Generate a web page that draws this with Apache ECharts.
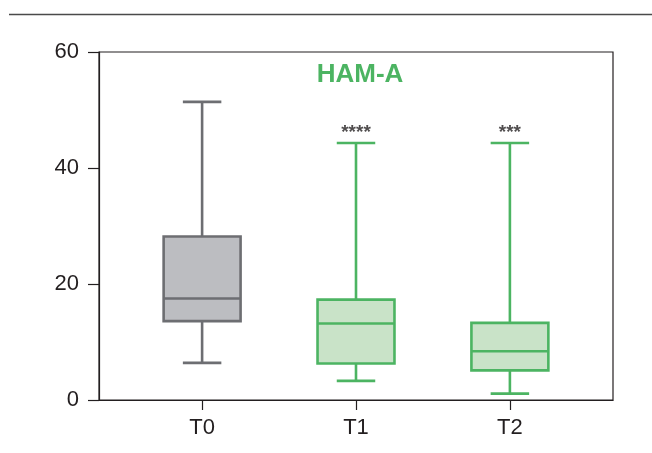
<!DOCTYPE html>
<html>
<head>
<meta charset="utf-8">
<script src="https://cdn.jsdelivr.net/npm/echarts@6/dist/echarts.min.js"></script>
<style>
  html, body { margin: 0; padding: 0; background: #fff; }
  #chart { width: 652px; height: 453px; }
</style>
</head>
<body>
<div id="chart"></div>
<script>
// time points
const categories = ['T0', 'T1', 'T2']
// [min, Q1, median, Q3, max]
const boxT0 = [6.4, 13.6, 17.5, 28.2, 51.4]
const boxT1 = [3.3, 6.3, 13.2, 17.3, 44.3]
const boxT2 = [1.1, 5.1, 8.4, 13.3, 44.3]
// significance marks vs T0
const sigLabels = ['', '****', '***']

const GRAY = '#6d6e72'
const GREEN = '#4cb462'
const fontFamily = '"Liberation Sans", Arial, sans-serif'

const chart = echarts.init(document.getElementById('chart'), null, { renderer: 'canvas' })

const boxes = [boxT0, boxT1, boxT2]
const styles = [
  { fill: '#bcbdc1', stroke: GRAY },
  { fill: '#c9e3c8', stroke: GREEN },
  { fill: '#c9e3c8', stroke: GREEN }
]

// box width in axis units (1 unit = one category step)
const BOX_W = 0.5

const renderBox = (params, api) => {
  const i = api.value(0)
  const [lo, q1, med, q3, hi] = [1, 2, 3, 4, 5].map(d => api.value(d))
  const xl = api.coord([i - BOX_W / 2, 0])[0]
  const xr = api.coord([i + BOX_W / 2, 0])[0]
  const xc = api.coord([i, 0])[0]
  const y = v => api.coord([i, v])[1]
  const capL = (xl + xc) / 2
  const capR = (xr + xc) / 2
  const st = styles[i]
  const line = { stroke: st.stroke, lineWidth: 2.6 }
  return {
    type: 'group',
    children: [
      { type: 'line', shape: { x1: xc, y1: y(hi), x2: xc, y2: y(q3) }, style: line },
      { type: 'line', shape: { x1: xc, y1: y(q1), x2: xc, y2: y(lo) }, style: line },
      { type: 'line', shape: { x1: capL, y1: y(hi), x2: capR, y2: y(hi) }, style: line },
      { type: 'line', shape: { x1: capL, y1: y(lo), x2: capR, y2: y(lo) }, style: line },
      {
        type: 'rect',
        shape: { x: xl, y: y(q3), width: xr - xl, height: y(q1) - y(q3) },
        style: { fill: st.fill, stroke: st.stroke, lineWidth: 2.6 }
      },
      { type: 'line', shape: { x1: xl, y1: y(med), x2: xr, y2: y(med) }, style: line }
    ]
  }
}

chart.setOption({
  animation: false,
  textStyle: { fontFamily },
  title: {
    text: 'HAM-A',
    left: 355,
    top: 57,
    textAlign: 'center',
    textStyle: { color: GREEN, fontSize: 26, fontWeight: 'bold', fontFamily }
  },
  graphic: [{
    type: 'line',
    shape: { x1: 9, y1: 14.5, x2: 652, y2: 14.5 },
    style: { stroke: '#4a4a4a', lineWidth: 1.5 }
  }],
  grid: {
    left: 99, right: 39, top: 52, bottom: 53,
    show: true,
    borderColor: '#231f20',
    borderWidth: 1.2,
    containLabel: false
  },
  xAxis: {
    type: 'value',
    min: -0.67,
    max: 2.67,
    splitLine: { show: false },
    axisLine: { show: true, onZero: false, lineStyle: { color: '#231f20', width: 1.2 } },
    axisTick: { show: true, customValues: [0, 1, 2], length: 10, lineStyle: { color: '#231f20', width: 1.2 } },
    axisLabel: {
      customValues: [0, 1, 2],
      formatter: v => categories[Math.round(v)],
      color: '#231f20',
      fontSize: 22,
      margin: 17
    }
  },
  yAxis: {
    type: 'value',
    min: 0,
    max: 60,
    interval: 20,
    splitLine: { show: false },
    axisLine: { show: true, onZero: false, lineStyle: { color: '#231f20', width: 1.2 } },
    axisTick: { show: true, length: 11, lineStyle: { color: '#231f20', width: 1.2 } },
    axisLabel: { color: '#231f20', fontSize: 22, margin: 20 }
  },
  series: [
    {
      type: 'custom',
      renderItem: renderBox,
      encode: { x: 0, y: [1, 2, 3, 4, 5] },
      data: boxes.map((b, i) => [i, ...b])
    },
    {
      type: 'scatter',
      symbolSize: 0,
      silent: true,
      data: boxes.map((b, i) => [i, b[4]]).filter((_, i) => sigLabels[i]),
      label: {
        show: true,
        position: 'top',
        distance: 1,
        color: '#231f20',
        fontSize: 19,
        fontWeight: 'bold',
        formatter: p => sigLabels[p.value[0]]
      }
    }
  ]
})
</script>
</body>
</html>
